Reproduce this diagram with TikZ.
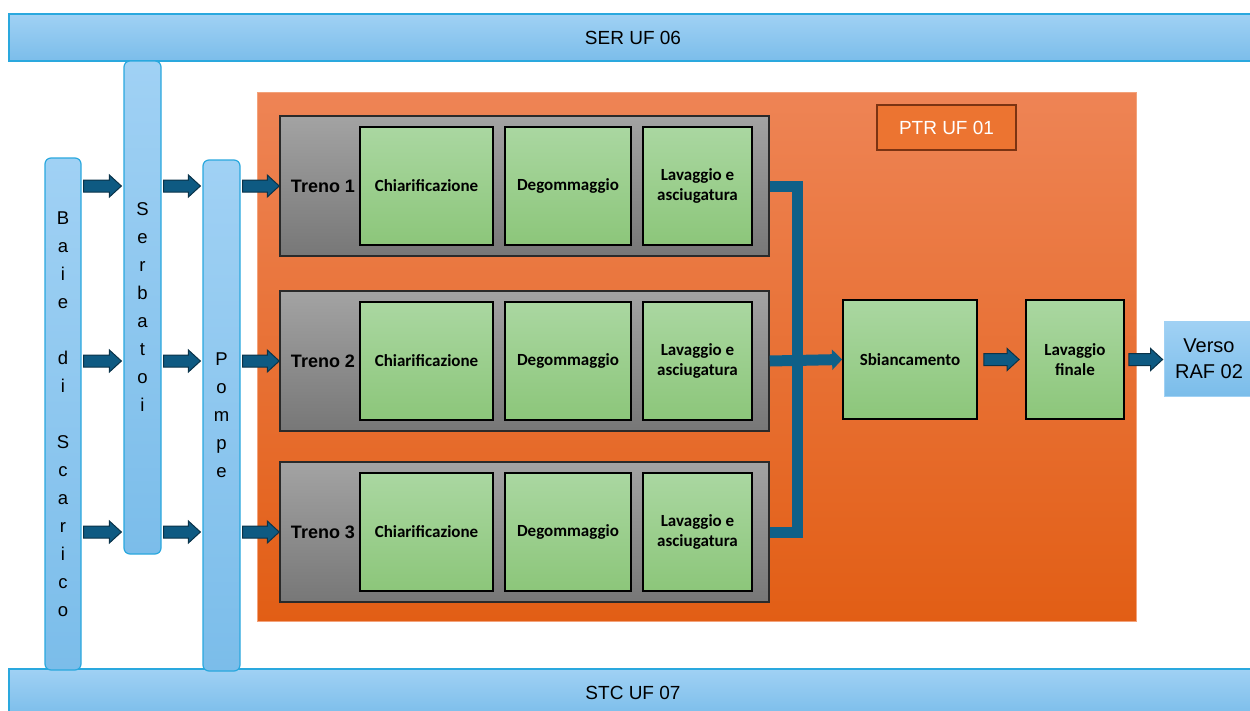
\documentclass[tikz,border=0pt]{standalone}
\usepackage{fontspec}
\setmainfont{Liberation Sans}
\newfontfamily\stepfont{Carlito}
\usetikzlibrary{arrows.meta,calc}

\definecolor{barline}{HTML}{2AA8DE}
\definecolor{bartop}{HTML}{A0D1F4}
\definecolor{barbot}{HTML}{7BBDEA}
\definecolor{ptrtop}{HTML}{EE8455}
\definecolor{ptrmid}{HTML}{F07231}
\definecolor{ptrbot}{HTML}{E25E15}
\definecolor{ptrline}{HTML}{F3A27A}
\definecolor{tagfill}{HTML}{EC7431}
\definecolor{tagline}{HTML}{7B3312}
\definecolor{graytop}{HTML}{A3A3A3}
\definecolor{graybot}{HTML}{777777}
\definecolor{graen}{HTML}{2A2A2A}
\definecolor{greentop}{HTML}{AAD7A1}
\definecolor{greenbot}{HTML}{8CC67A}
\definecolor{flowfill}{HTML}{0E5A82}
\definecolor{flowline}{HTML}{0A3349}
\definecolor{busblue}{HTML}{0F6088}

% horizontal block arrow between two points at the height of the first one
\newcommand\blockarrow[2]{%
  \draw[flowarrow] let \p1=(#1), \p2=(#2) in
    (\x1,\y1+6pt) -- (\x2-12pt,\y1+6pt) -- (\x2-12pt,\y1+11pt) -- (\x2,\y1)
    -- (\x2-12pt,\y1-11pt) -- (\x2-12pt,\y1-6pt) -- (\x1,\y1-6pt) -- cycle;}

\begin{document}
\begin{tikzpicture}[x=1pt,y=-1pt,
  bar/.style={rectangle, draw=barline, line width=1.2pt, top color=bartop,
    bottom color=barbot, inner sep=0pt, font=\fontsize{19}{20}\selectfont},
  column/.style={bar, rounded corners=6pt, align=center,
    font=\fontsize{18.5}{28}\selectfont},
  area/.style={rectangle, draw=ptrline, line width=0.8pt, top color=ptrtop,
    middle color=ptrmid, bottom color=ptrbot, inner sep=0pt},
  tag/.style={rectangle, draw=tagline, line width=1.5pt, fill=tagfill,
    text=white, inner sep=0pt, font=\fontsize{19}{20}\selectfont},
  train/.style={rectangle, draw=graen, line width=1.5pt, top color=graytop,
    bottom color=graybot, minimum width=489, minimum height=140, inner sep=0pt},
  trainlabel/.style={font=\bfseries\fontsize{18}{20}\selectfont, inner sep=0pt},
  stepbox/.style={rectangle, draw=black, line width=1.8pt, top color=greentop,
    bottom color=greenbot, minimum height=118, inner sep=0pt, align=center,
    font=\stepfont\bfseries\fontsize{17}{19.5}\selectfont},
  flowarrow/.style={fill=flowfill, draw=flowline, line width=1pt, line join=miter},
  bus/.style={draw=busblue, line width=11pt, line join=miter}
]
\useasboundingbox (0,0) rectangle (1250,710);

% service bars
\node[bar, minimum width=1248, minimum height=47] (ser) at (633,37.5) {SER UF 06};
\node[bar, minimum width=1248, minimum height=47] (stc) at (633,692.5) {STC UF 07};

% vertical units
\node[column, minimum width=36, minimum height=512] (baie) at (63,414)
  {B\\a\\i\\e\\\mbox{}\\d\\i\\\mbox{}\\S\\c\\a\\r\\i\\c\\o};
\node[column, minimum width=37, minimum height=493] (serb) at (142.5,307.5)
  {S\\e\\r\\b\\a\\t\\o\\i};
\node[column, minimum width=37, minimum height=511] (pompe) at (221.5,415.5)
  {P\\o\\m\\p\\e};

% treatment area
\node[area, minimum width=879, minimum height=529] (ptr) at (696.5,356.5) {};
\node[tag, minimum width=139, minimum height=45] (ptrtag) at (946.5,127.5) {PTR UF 01};

% three trains
\foreach \i/\y in {1/186, 2/361, 3/532} {
  \node[train] (t\i) at (524.5,\y) {};
  \node[trainlabel] (t\i lab) at (323,\y) {Treno \i};
  \node[stepbox, minimum width=133] (c\i) at (426.5,\y) {Chiarificazione};
  \node[stepbox, minimum width=126] (d\i) at (568,\y) {Degommaggio};
  \node[stepbox, minimum width=109] (l\i) at (697.5,\y) {Lavaggio e\\asciugatura};
}

% final steps
\node[stepbox, minimum width=134, minimum height=119] (sbian) at (910,359.5) {Sbiancamento};
\node[stepbox, minimum width=98, minimum height=119] (lavfin) at (1075,359.5) {Lavaggio\\finale};
\node[rectangle, top color=bartop, bottom color=barbot, draw=bartop,
  line width=0.8pt, minimum width=90, minimum height=75, align=center,
  font=\fontsize{20}{26}\selectfont] (verso) at (1209,358.5) {Verso\\RAF 02};

% feed arrows
\foreach \i in {1,2,3} {
  \blockarrow{$(baie.east |- t\i)+(2,0)$}{$(serb.west |- t\i)+(-2,0)$}
  \blockarrow{$(serb.east |- t\i)+(2,0)$}{$(pompe.west |- t\i)+(-2,0)$}
  \blockarrow{$(pompe.east |- t\i)+(2,0)$}{$(t\i.west)+(0,0)$}
}

% collector from the trains to bleaching
\draw[bus] (t1.east) -- ++(28,0) |- (t3.east);
\draw[bus, -{Triangle[length=10pt,width=20pt]}] (t2.east) -- (sbian.west);

% downstream arrows
\blockarrow{$(sbian.east)+(6,0)$}{$(lavfin.west)+(-6,0)$}
\blockarrow{$(lavfin.east)+(4,0)$}{$(verso.west)+(-1,0)$}
\end{tikzpicture}
\end{document}
